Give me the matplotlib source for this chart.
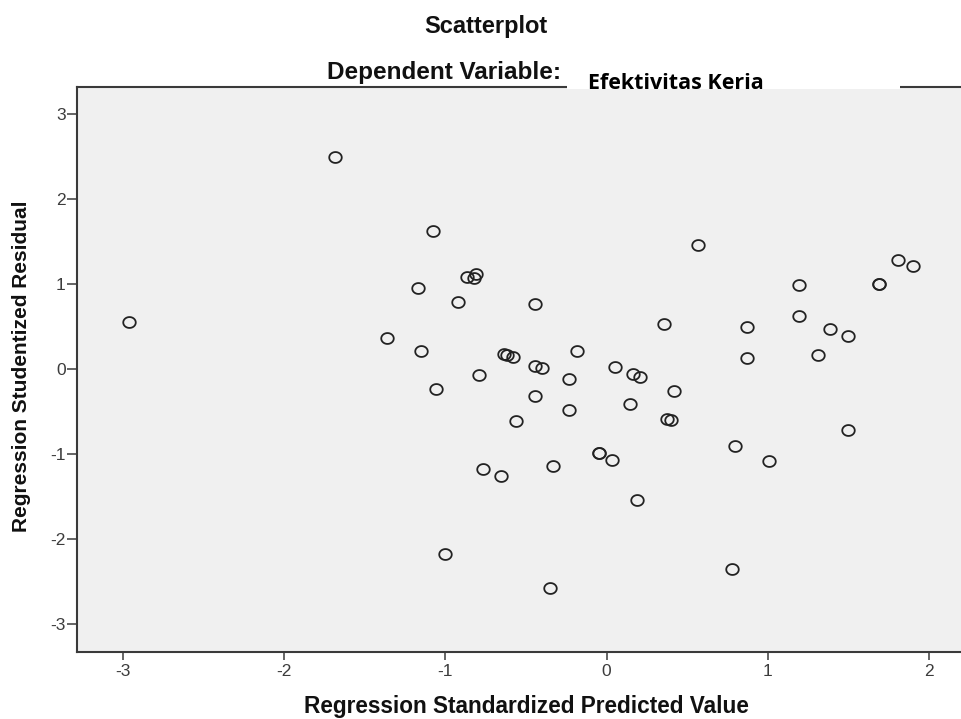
import numpy as np
import matplotlib
matplotlib.use('Agg')
import matplotlib.pyplot as plt
from matplotlib.path import Path
from matplotlib.patches import Rectangle
from matplotlib.transforms import Bbox, TransformedBbox

plt.rcParams['font.family'] = ['Liberation Sans', 'DejaVu Sans']

# valores (SPSS)
pred_std = [-2.959, -1.684, -1.074, -0.867, -0.810, -0.822, -1.171, -0.919, -1.360, -1.151,
            -0.636, -0.619, -0.578, -0.789, -1.056, 0.565, -0.444, 0.356, 0.872, 1.195,
            1.195, 1.385, 1.498, 1.691, 1.691, 1.805, 1.901, 0.872, 1.311, -0.444,
            -0.402, -0.182, -0.235, 0.050, 0.166, 0.207, 0.416, -0.444, -0.235, 0.145,
            -0.560, 0.376, 0.397, 1.498, 0.796, 1.007, -0.047, -0.047, 0.032, -0.330,
            -0.764, -0.655, 0.187, 0.776, -0.351, -1.002]
resid_stud = [0.549, 2.491, 1.620, 1.086, 1.118, 1.067, 0.956, 0.785, 0.368, 0.208,
              0.180, 0.168, 0.141, -0.071, -0.235, 1.455, 0.765, 0.526, 0.498, 0.988,
              0.620, 0.474, 0.388, 0.996, 0.996, 1.279, 1.212, 0.133, 0.165, 0.035,
              0.008, 0.208, -0.121, 0.027, -0.062, -0.094, -0.262, -0.314, -0.486, -0.412,
              -0.608, -0.585, -0.604, -0.721, -0.909, -1.079, -0.992, -0.992, -1.071, -1.145,
              -1.180, -1.262, -1.538, -2.349, -2.576, -2.180]
xticks = [-3, -2, -1, 0, 1, 2]
yticks = [-3, -2, -1, 0, 1, 2, 3]

W, H = 962, 719
fig = plt.figure(figsize=(W / 100, H / 100), dpi=100)
fig.patch.set_facecolor('white')

# ejes: el borde derecho queda fuera de la imagen (recortado como en el original)
x0, x1, y_top, y_bot = 77, 975, 87, 652
ax = fig.add_axes([x0 / W, (H - y_bot) / H, (x1 - x0) / W, (y_bot - y_top) / H])
ax.set_facecolor('#f0f0f0')
ax.set_xlim(-3.283, 2.284)
ax.set_ylim(-3.329, 3.318)

# marcador circular un poco ancho
t = np.linspace(0, 2 * np.pi, 60)
elipse = Path(np.column_stack([1.15 * np.cos(t), np.sin(t)]), closed=True)
ax.plot(pred_std, resid_stud, linestyle='none', marker=elipse, markersize=9,
        markerfacecolor='none', markeredgecolor='#222222', markeredgewidth=1.3)

for s in ['top', 'bottom', 'left']:
    ax.spines[s].set_linewidth(1.5)
    ax.spines[s].set_color('#3a3a3a')
ax.spines['right'].set_visible(False)

ax.set_xticks(xticks)
ax.set_yticks(yticks)
ax.set_xticklabels([str(v) for v in xticks])
ax.set_yticklabels([str(v) for v in yticks])
ax.tick_params(axis='y', direction='out', length=7.2, width=1.1, pad=1,
               labelsize=12.5, labelcolor='#3c3c3c', color='#3a3a3a')
ax.tick_params(axis='x', direction='out', length=5.8, width=1.1, pad=3,
               labelsize=12.5, labelcolor='#3c3c3c', color='#3a3a3a')
ax.grid(False)

fig.text(22 / W, 1 - 366 / H, 'Regression Studentized Residual', rotation=90,
         ha='center', va='center', fontsize=15, fontweight='bold', color='#111111')
fig.text(526 / W, 1 - 706 / H, 'Regression Standardized Predicted Value',
         ha='center', va='center', fontsize=16.3, fontweight='bold', color='#111111')

fig.text(486 / W, 1 - 26 / H, 'Scatterplot', ha='center', va='center',
         fontsize=17, fontweight='bold', color='#111111')
fig.text(561 / W, 1 - 73 / H, 'Dependent Variable:', ha='right', va='center',
         fontsize=17.5, fontweight='bold', color='#111111')

# recuadro blanco pegado encima con el nombre de la variable
bx0, bx1, by0, by1 = 567, 900, 48, 88.5
caja = Rectangle((bx0 / W, 1 - by1 / H), (bx1 - bx0) / W, (by1 - by0) / H,
                 transform=fig.transFigure, facecolor='white', edgecolor='none', zorder=5)
fig.add_artist(caja)
txt = fig.text(588 / W, 1 - 88.5 / H, 'Efektivitas Kerja', ha='left', va='baseline',
               fontsize=15.5, fontweight='bold', color='black', zorder=6,
               family=['Open Sans', 'DejaVu Sans'])
txt.set_clip_box(TransformedBbox(Bbox([[bx0 / W, 1 - by1 / H], [bx1 / W, 1 - by0 / H]]),
                                 fig.transFigure))

fig.savefig('out.png', dpi=100)
